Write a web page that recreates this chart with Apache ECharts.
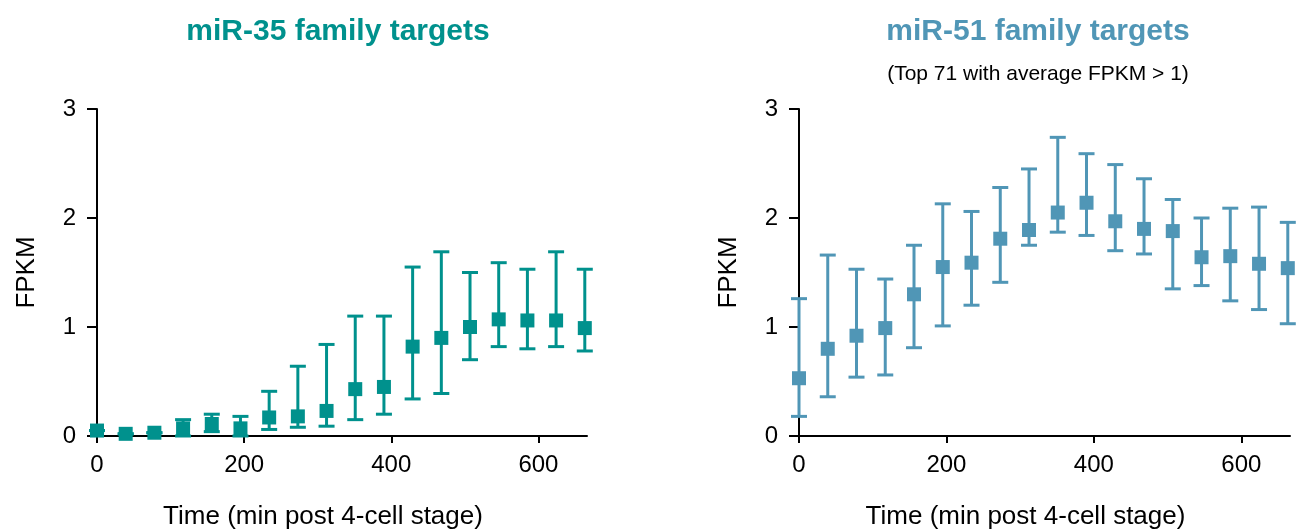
<!DOCTYPE html>
<html>
<head>
<meta charset="utf-8">
<script src="https://cdn.jsdelivr.net/npm/echarts@6/dist/echarts.min.js"></script>
<style>
  html, body { margin: 0; padding: 0; background: #fff; }
  #chart { width: 1301px; height: 529px; }
</style>
</head>
<body>
<div id="chart"></div>
<script>
// time points (min post 4-cell stage)
var times = [0, 39, 78, 117, 156, 195, 234, 273, 312, 351, 390, 429, 468, 507, 546, 585, 624, 663]

// miR-35 family targets: mean, lower and upper error bar
var mean35 = [0.05, 0.02, 0.03, 0.07, 0.11, 0.07, 0.17, 0.18, 0.23, 0.43, 0.45, 0.82, 0.90, 1.00, 1.07, 1.06, 1.06, 0.99]
var low35 = [0.05, 0.02, 0.03, 0.00, 0.04, 0.00, 0.06, 0.08, 0.09, 0.15, 0.20, 0.34, 0.39, 0.70, 0.82, 0.80, 0.82, 0.78]
var high35 = [0.05, 0.02, 0.03, 0.15, 0.20, 0.18, 0.41, 0.64, 0.84, 1.10, 1.10, 1.55, 1.69, 1.50, 1.59, 1.53, 1.69, 1.53]

// miR-51 family targets
var mean51 = [0.53, 0.80, 0.92, 0.99, 1.30, 1.55, 1.59, 1.81, 1.89, 2.05, 2.14, 1.97, 1.90, 1.88, 1.64, 1.65, 1.58, 1.54]
var low51 = [0.18, 0.36, 0.54, 0.56, 0.81, 1.01, 1.20, 1.41, 1.75, 1.87, 1.84, 1.70, 1.67, 1.35, 1.38, 1.24, 1.16, 1.03]
var high51 = [1.26, 1.66, 1.53, 1.44, 1.75, 2.13, 2.06, 2.28, 2.45, 2.74, 2.59, 2.49, 2.36, 2.17, 2.00, 2.09, 2.10, 1.96]

var xTicks = [0, 200, 400, 600]
var yTicks = [0, 1, 2, 3]

var color35 = '#00918d'
var color51 = '#5096b6'
var font = 'Liberation Sans, Arial, sans-serif'

var chart = echarts.init(document.getElementById('chart'))

function pts(means) {
  return times.map(function(t, i) { return [t, means[i]] })
}
function bars(lo, hi) {
  return times.map(function(t, i) { return [t, lo[i], hi[i]] })
}
function errorBar(color) {
  return function(params, api) {
    var x = api.value(0)
    var top = api.coord([x, api.value(2)])
    var bot = api.coord([x, api.value(1)])
    var w = 8
    var style = { stroke: color, lineWidth: 3 }
    return {
      type: 'group',
      children: [
        { type: 'line', shape: { x1: top[0], y1: top[1], x2: bot[0], y2: bot[1] }, style: style },
        { type: 'line', shape: { x1: top[0] - w, y1: top[1], x2: top[0] + w, y2: top[1] }, style: style },
        { type: 'line', shape: { x1: bot[0] - w, y1: bot[1], x2: bot[0] + w, y2: bot[1] }, style: style }
      ]
    }
  }
}

function xAxis(idx) {
  return {
    type: 'value',
    gridIndex: idx,
    min: 0,
    max: 666,
    interval: 200,
    name: 'Time (min post 4-cell stage)',
    nameLocation: 'middle',
    nameGap: 68,
    nameTextStyle: { fontSize: 26, color: '#000', fontFamily: font, padding: [0, 38, 0, 0] },
    splitLine: { show: false },
    axisLine: { onZero: false, lineStyle: { color: '#000', width: 2 } },
    axisTick: { length: 7, lineStyle: { color: '#000', width: 2 } },
    axisLabel: {
      margin: 17,
      fontSize: 24,
      color: '#000',
      fontFamily: font,
      showMaxLabel: false,
      formatter: function(v) { return xTicks.indexOf(v) >= 0 ? String(v) : '' }
    }
  }
}
function yAxis(idx) {
  return {
    type: 'value',
    gridIndex: idx,
    min: 0,
    max: 3,
    interval: 1,
    name: 'FPKM',
    nameLocation: 'middle',
    nameGap: 57,
    nameTextStyle: { fontSize: 26, color: '#000', fontFamily: font },
    splitLine: { show: false },
    axisLine: { onZero: false, lineStyle: { color: '#000', width: 2 } },
    axisTick: { length: 10, lineStyle: { color: '#000', width: 2 } },
    axisLabel: {
      margin: 21,
      fontSize: 24,
      color: '#000',
      fontFamily: font,
      formatter: function(v) { return yTicks.indexOf(v) >= 0 ? String(v) : '' }
    }
  }
}

var option = {
  animation: false,
  backgroundColor: '#fff',
  title: [
    {
      text: 'miR-35 family targets',
      left: 333,
      top: 12,
      textAlign: 'center',
      textStyle: { fontSize: 30, fontWeight: 'bold', color: color35, fontFamily: font }
    },
    {
      text: 'miR-51 family targets',
      subtext: '(Top 71 with average FPKM > 1)',
      left: 1033,
      top: 12,
      textAlign: 'center',
      itemGap: 17,
      textStyle: { fontSize: 30, fontWeight: 'bold', color: color51, fontFamily: font },
      subtextStyle: { fontSize: 21, color: '#000', fontFamily: font }
    }
  ],
  grid: [
    { left: 97, top: 109, width: 490, height: 327, outerBoundsMode: 'none' },
    { left: 799, top: 109, width: 491, height: 327, outerBoundsMode: 'none' }
  ],
  xAxis: [xAxis(0), xAxis(1)],
  yAxis: [yAxis(0), yAxis(1)],
  series: [
    {
      type: 'custom',
      xAxisIndex: 0,
      yAxisIndex: 0,
      renderItem: errorBar(color35),
      encode: { x: 0, y: [1, 2] },
      data: bars(low35, high35),
      z: 2
    },
    {
      type: 'scatter',
      xAxisIndex: 0,
      yAxisIndex: 0,
      symbol: 'rect',
      symbolSize: 14,
      itemStyle: { color: color35, opacity: 1 },
      data: pts(mean35),
      z: 3
    },
    {
      type: 'custom',
      xAxisIndex: 1,
      yAxisIndex: 1,
      renderItem: errorBar(color51),
      encode: { x: 0, y: [1, 2] },
      data: bars(low51, high51),
      z: 2
    },
    {
      type: 'scatter',
      xAxisIndex: 1,
      yAxisIndex: 1,
      symbol: 'rect',
      symbolSize: 14,
      itemStyle: { color: color51, opacity: 1 },
      data: pts(mean51),
      z: 3
    }
  ]
}
chart.setOption(option)
window.addEventListener('resize', function() {
  chart.resize()
})
</script>
</body>
</html>
